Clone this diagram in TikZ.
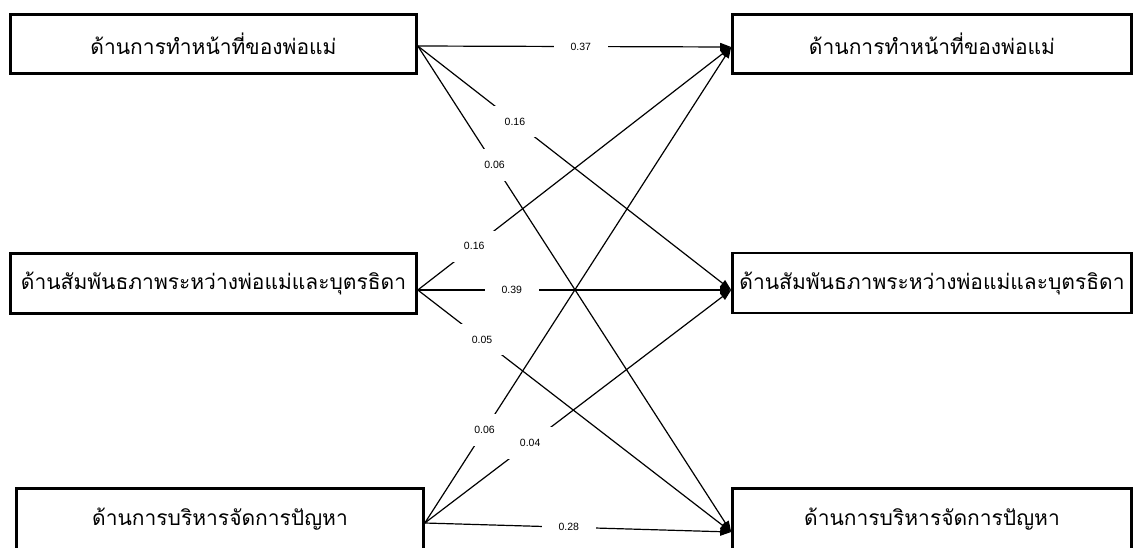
\documentclass[tikz,border=0pt]{standalone}
\usepackage{fontspec}
\setmainfont{Liberation Sans}
\newfontfamily\thaifont[Script=Thai]{Loma}
\usetikzlibrary{arrows.meta}
\begin{document}
\begin{tikzpicture}[x=1pt,y=-1pt,
  box/.style={draw, line width=2.6pt, inner sep=0pt, minimum height=59pt,
    font=\thaifont\fontsize{21}{24}\selectfont},
  link/.style={line width=1.2pt, -{Triangle[length=11pt,width=8pt]}},
  lab/.style={fill=white, inner xsep=17pt, inner ysep=12pt,
    font=\fontsize{10.5}{12}\selectfont}]
\clip (0,0) rectangle (1135,547);
\fill[white] (0,0) rectangle (1135,547);
% boxes
\node[box, minimum width=406pt] (L1) at (213.5,44) {ด้านการทำหน้าที่ของพ่อแม่};
\node[box, minimum width=399pt] (R1) at (932,44) {ด้านการทำหน้าที่ของพ่อแม่};
\node[box, minimum width=406pt, minimum height=60pt] (L2) at (213.5,283.5) {ด้านสัมพันธภาพระหว่างพ่อแม่และบุตรธิดา};
\node[box, minimum width=399pt, minimum height=60pt] (R2) at (932,283) {ด้านสัมพันธภาพระหว่างพ่อแม่และบุตรธิดา};
\node[box, minimum width=407pt, minimum height=62pt] (L3) at (220,519.5) {ด้านการบริหารจัดการปัญหา};
\node[box, minimum width=399pt, minimum height=62pt] (R3) at (932,519.5) {ด้านการบริหารจัดการปัญหา};
% ports
\coordinate (L1o) at ([yshift=-2pt]L1.east);
\coordinate (L2o) at ([yshift=-6.5pt]L2.east);
\coordinate (L3o) at ([yshift=-3.5pt]L3.east);
\coordinate (R1i) at ([yshift=-3pt]R1.west);
\coordinate (R2i) at ([yshift=-7pt]R2.west);
\coordinate (R3i) at ([yshift=-12.5pt]R3.west);
% connectors
\draw[link] (L1o) -- node[lab, pos=0.52] {0.37} (R1i);
\draw[link] (L1o) -- node[lab, pos=0.31] {0.16} (R2i);
\draw[link] (L1o) -- node[lab, pos=0.245] {0.06} (R3i);
\draw[link] (L2o) -- node[lab, pos=0.18] {0.16} (R1i);
\draw[link] (L2o) -- node[lab, pos=0.30] {0.39} (R2i);
\draw[link] (L2o) -- node[lab, pos=0.205] {0.05} (R3i);
\draw[link] (L3o) -- node[lab, pos=0.195] {0.06} (R1i);
\draw[link] (L3o) -- node[lab, pos=0.344] {0.04} (R2i);
\draw[link] (L3o) -- node[lab, pos=0.47] {0.28} (R3i);
\end{tikzpicture}
\end{document}
